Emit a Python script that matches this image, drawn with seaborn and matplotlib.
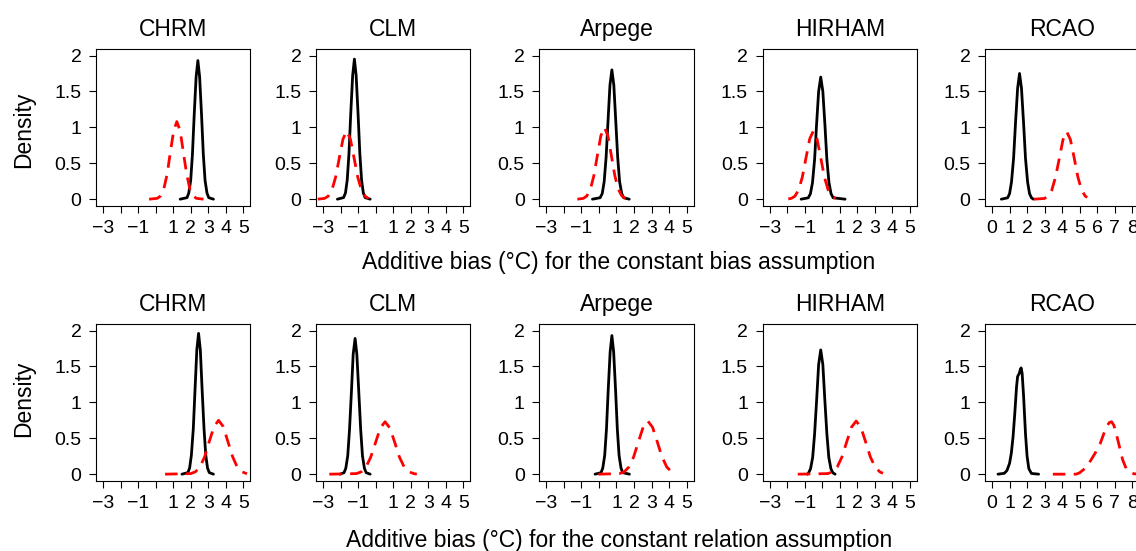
import matplotlib
matplotlib.use("Agg")
import matplotlib.pyplot as plt
import seaborn as sns
import pandas as pd

# panel titles and axis labels
models = ["CHRM", "CLM", "Arpege", "HIRHAM", "RCAO"]
row_xlabels = [
    "Additive bias (\u00b0C) for the constant bias assumption",
    "Additive bias (\u00b0C) for the constant relation assumption",
]
y_ticks = [0, 0.5, 1, 1.5, 2]
y_ticklabels = ["0", "0.5", "1", "1.5", "2"]
x_ticks = [-3, -2, -1, 0, 1, 2, 3, 4, 5]
x_ticklabels = ["\u22123", "", "\u22121", "", "1", "2", "3", "4", "5"]
rcao_ticks = [0, 1, 2, 3, 4, 5, 6, 7, 8]
rcao_ticklabels = ["0", "1", "2", "3", "4", "5", "6", "7", "8"]

# --- constant bias assumption (top row) ---
chrm_cb_black_x = [1.40, 1.79, 1.89, 2.00, 2.10, 2.20, 2.31, 2.41, 2.51, 2.62, 2.72, 2.82, 2.93, 3.03, 3.30]
chrm_cb_black_y = [0, 0.021, 0.085, 0.261, 0.627, 1.171, 1.703, 1.93, 1.703, 1.171, 0.627, 0.261, 0.085, 0.021, 0]
chrm_cb_red_x = [-0.37, 0.10, 0.29, 0.47, 0.66, 0.84, 1.03, 1.21, 1.40, 1.58, 1.77, 1.95, 2.14, 2.32, 2.73]
chrm_cb_red_y = [0, 0.012, 0.047, 0.146, 0.351, 0.655, 0.953, 1.08, 0.953, 0.655, 0.351, 0.146, 0.047, 0.012, 0]

clm_cb_black_x = [-2.18, -1.83, -1.72, -1.62, -1.52, -1.42, -1.31, -1.21, -1.11, -1.00, -0.90, -0.80, -0.70, -0.60, -0.31]
clm_cb_black_y = [0, 0.022, 0.086, 0.264, 0.633, 1.183, 1.721, 1.95, 1.721, 1.183, 0.633, 0.264, 0.086, 0.022, 0]
clm_cb_red_x = [-3.30, -2.91, -2.70, -2.49, -2.28, -2.07, -1.86, -1.65, -1.44, -1.23, -1.02, -0.81, -0.60, -0.40]
clm_cb_red_y = [0, 0.011, 0.042, 0.129, 0.308, 0.576, 0.838, 0.95, 0.838, 0.576, 0.308, 0.129, 0.042, 0.008]

arpege_cb_black_x = [-0.37, 0.07, 0.19, 0.30, 0.41, 0.52, 0.63, 0.74, 0.85, 0.96, 1.07, 1.18, 1.30, 1.41, 1.73]
arpege_cb_black_y = [0, 0.020, 0.079, 0.244, 0.584, 1.092, 1.589, 1.80, 1.589, 1.092, 0.584, 0.244, 0.079, 0.020, 0]
arpege_cb_red_x = [-1.23, -0.89, -0.69, -0.49, -0.29, -0.09, 0.11, 0.31, 0.51, 0.71, 0.91, 1.11, 1.31, 1.51]
arpege_cb_red_y = [0, 0.011, 0.044, 0.135, 0.325, 0.607, 0.883, 1.0, 0.883, 0.607, 0.325, 0.135, 0.044, 0.011]

hirham_cb_black_x = [-1.21, -0.80, -0.68, -0.56, -0.44, -0.33, -0.21, -0.09, 0.03, 0.15, 0.26, 0.38, 0.50, 0.62, 1.30]
hirham_cb_black_y = [0, 0.019, 0.075, 0.230, 0.552, 1.031, 1.500, 1.70, 1.500, 1.031, 0.552, 0.230, 0.075, 0.019, 0]
hirham_cb_red_x = [-1.94, -1.77, -1.56, -1.35, -1.14, -0.93, -0.72, -0.51, -0.30, -0.09, 0.12, 0.33, 0.54, 0.75]
hirham_cb_red_y = [0.004, 0.011, 0.042, 0.129, 0.308, 0.576, 0.838, 0.95, 0.838, 0.576, 0.308, 0.129, 0.042, 0.011]

rcao_cb_black_x = [0.53, 0.89, 1.00, 1.11, 1.23, 1.34, 1.46, 1.57, 1.68, 1.80, 1.91, 2.03, 2.14, 2.25, 2.36]
rcao_cb_black_y = [0, 0.019, 0.077, 0.237, 0.568, 1.061, 1.544, 1.75, 1.544, 1.061, 0.568, 0.237, 0.077, 0.019, 0]
rcao_cb_red_x = [2.40, 2.99, 3.20, 3.41, 3.62, 3.84, 4.05, 4.26, 4.47, 4.69, 4.90, 5.11, 5.32, 5.43]
rcao_cb_red_y = [0, 0.010, 0.041, 0.127, 0.305, 0.570, 0.830, 0.94, 0.830, 0.570, 0.305, 0.127, 0.041, 0.025]

# --- constant relation assumption (bottom row) ---
chrm_cr_black_x = [1.50, 1.84, 1.94, 2.04, 2.15, 2.25, 2.35, 2.45, 2.55, 2.65, 2.76, 2.86, 2.96, 3.06, 3.30]
chrm_cr_black_y = [0, 0.022, 0.086, 0.265, 0.636, 1.189, 1.730, 1.96, 1.730, 1.189, 0.636, 0.265, 0.086, 0.022, 0]
chrm_cr_red_x = [0.54, 2.00, 2.27, 2.53, 2.80, 3.06, 3.33, 3.59, 3.86, 4.12, 4.39, 4.65, 4.92, 5.21]
chrm_cr_red_y = [0, 0.008, 0.033, 0.101, 0.244, 0.455, 0.662, 0.75, 0.662, 0.455, 0.244, 0.101, 0.033, 0.006]

clm_cr_black_x = [-2.03, -1.80, -1.70, -1.59, -1.49, -1.38, -1.28, -1.17, -1.07, -0.96, -0.85, -0.75, -0.64, -0.54, -0.31]
clm_cr_black_y = [0, 0.021, 0.083, 0.256, 0.614, 1.146, 1.668, 1.89, 1.668, 1.146, 0.614, 0.256, 0.083, 0.021, 0]
clm_cr_red_x = [-2.64, -1.10, -0.82, -0.55, -0.28, 0.00, 0.27, 0.54, 0.81, 1.09, 1.36, 1.63, 1.90, 2.18, 2.35]
clm_cr_red_y = [0, 0.008, 0.032, 0.099, 0.237, 0.443, 0.644, 0.73, 0.644, 0.443, 0.237, 0.099, 0.032, 0.008, 0]

arpege_cr_black_x = [-0.22, 0.12, 0.22, 0.33, 0.43, 0.53, 0.64, 0.74, 0.84, 0.95, 1.05, 1.15, 1.26, 1.36, 1.74]
arpege_cr_black_y = [0, 0.021, 0.085, 0.261, 0.627, 1.171, 1.703, 1.93, 1.703, 1.171, 0.627, 0.261, 0.085, 0.021, 0]
arpege_cr_red_x = [-0.03, 1.17, 1.44, 1.71, 1.98, 2.25, 2.52, 2.79, 3.06, 3.33, 3.60, 3.87, 4.14, 4.45]
arpege_cr_red_y = [0, 0.008, 0.032, 0.100, 0.240, 0.449, 0.653, 0.74, 0.653, 0.449, 0.240, 0.100, 0.032, 0.005]

hirham_cr_black_x = [-0.85, -0.78, -0.67, -0.55, -0.44, -0.32, -0.21, -0.09, 0.03, 0.14, 0.26, 0.37, 0.49, 0.60, 0.73]
hirham_cr_black_y = [0, 0.019, 0.076, 0.234, 0.562, 1.049, 1.527, 1.73, 1.527, 1.049, 0.562, 0.234, 0.076, 0.019, 0]
hirham_cr_red_x = [-1.40, 0.31, 0.58, 0.85, 1.12, 1.39, 1.66, 1.93, 2.20, 2.47, 2.74, 3.01, 3.28, 3.46]
hirham_cr_red_y = [0, 0.008, 0.032, 0.100, 0.240, 0.449, 0.653, 0.74, 0.653, 0.449, 0.240, 0.100, 0.032, 0.012]

rcao_cr_black_x = [0.34, 0.70, 0.85, 1.00, 1.10, 1.20, 1.30, 1.40, 1.46, 1.55, 1.62, 1.66, 1.72, 1.80, 1.91, 2.00, 2.10, 2.25, 2.66]
rcao_cr_black_y = [0, 0.012, 0.05, 0.15, 0.29, 0.52, 0.85, 1.22, 1.36, 1.40, 1.46, 1.48, 1.40, 1.09, 0.56, 0.25, 0.076, 0.01, 0]
rcao_cr_red_x = [3.47, 4.80, 5.00, 5.30, 5.60, 5.90, 6.16, 6.40, 6.55, 6.70, 6.82, 6.95, 7.10, 7.25, 7.45, 7.65, 7.85, 8.10, 8.50]
rcao_cr_red_y = [0, 0.0, 0.02, 0.08, 0.18, 0.30, 0.42, 0.58, 0.67, 0.72, 0.73, 0.68, 0.55, 0.40, 0.20, 0.08, 0.025, 0.005, 0]

rows = [
    [
        ((chrm_cb_black_x, chrm_cb_black_y), (chrm_cb_red_x, chrm_cb_red_y)),
        ((clm_cb_black_x, clm_cb_black_y), (clm_cb_red_x, clm_cb_red_y)),
        ((arpege_cb_black_x, arpege_cb_black_y), (arpege_cb_red_x, arpege_cb_red_y)),
        ((hirham_cb_black_x, hirham_cb_black_y), (hirham_cb_red_x, hirham_cb_red_y)),
        ((rcao_cb_black_x, rcao_cb_black_y), (rcao_cb_red_x, rcao_cb_red_y)),
    ],
    [
        ((chrm_cr_black_x, chrm_cr_black_y), (chrm_cr_red_x, chrm_cr_red_y)),
        ((clm_cr_black_x, clm_cr_black_y), (clm_cr_red_x, clm_cr_red_y)),
        ((arpege_cr_black_x, arpege_cr_black_y), (arpege_cr_red_x, arpege_cr_red_y)),
        ((hirham_cr_black_x, hirham_cr_black_y), (hirham_cr_red_x, hirham_cr_red_y)),
        ((rcao_cr_black_x, rcao_cr_black_y), (rcao_cr_red_x, rcao_cr_red_y)),
    ],
]

sns.set_style("ticks")
plt.rcParams["font.family"] = ["Liberation Sans", "DejaVu Sans"]
plt.rcParams["text.color"] = "black"
plt.rcParams["axes.labelcolor"] = "black"
plt.rcParams["xtick.color"] = "black"
plt.rcParams["ytick.color"] = "black"

W, H = 1136, 551
fig = plt.figure(figsize=(W / 100, H / 100), dpi=100)

# panel layout in pixels
lefts = [96, 316, 539.3, 762.7, 985]
tops = [48.7, 323.7]
pw, ph = 154.3, 157.3

for r, row in enumerate(rows):
    for c, (black, red) in enumerate(row):
        ax = fig.add_axes([lefts[c] / W, 1 - (tops[r] + ph) / H, pw / W, ph / H])
        frame = pd.concat([
            pd.DataFrame({"x": black[0], "density": black[1], "curve": "solid"}),
            pd.DataFrame({"x": red[0], "density": red[1], "curve": "dashed"}),
        ], ignore_index=True)
        sns.lineplot(data=frame, x="x", y="density", hue="curve", style="curve",
                     palette={"solid": "black", "dashed": "red"},
                     dashes={"solid": "", "dashed": (4.5, 3)},
                     estimator=None, sort=False, linewidth=2, legend=False, ax=ax)
        if models[c] == "RCAO":
            ax.set_xlim(-0.4, 8.4)
            ax.set_xticks(rcao_ticks)
            ax.set_xticklabels(rcao_ticklabels)
        else:
            ax.set_xlim(-3.4, 5.4)
            ax.set_xticks(x_ticks)
            ax.set_xticklabels(x_ticklabels)
        ax.set_ylim(-0.095, 2.095)
        ax.set_yticks(y_ticks)
        ax.set_yticklabels(y_ticklabels)
        ax.set_xlabel("")
        ax.set_ylabel("")
        for s in ax.spines.values():
            s.set_visible(True)
            s.set_linewidth(0.8)
            s.set_color("black")
        ax.tick_params(axis="both", direction="out", length=5, width=0.8,
                       labelsize=14, color="black", labelcolor="black")
        ax.tick_params(axis="x", pad=5)
        ax.tick_params(axis="y", pad=5.5)
        ax.set_title(models[c], fontsize=16.5, pad=9, color="black")

    fig.text(23.3 / W, 1 - (129.5 + r * 269) / H, "Density", rotation=90,
             ha="center", va="center", fontsize=16.5, color="black")

fig.text(619 / W, 1 - 269.3 / H, row_xlabels[0], ha="center", va="baseline",
         fontsize=16.5, color="black")
fig.text(619 / W, 1 - 546.7 / H, row_xlabels[1], ha="center", va="baseline",
         fontsize=16.5, color="black")

fig.savefig("out.png", dpi=100)
